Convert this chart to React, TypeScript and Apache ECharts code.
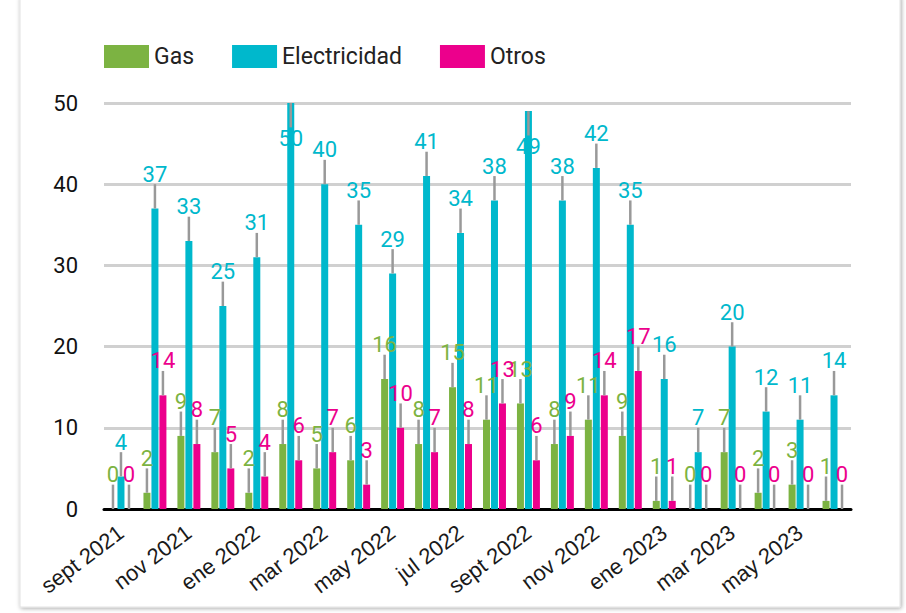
import React, { useEffect, useRef } from "react";
import * as echarts from "echarts";

const categories = [
  "sept 2021", "oct 2021", "nov 2021", "dic 2021", "ene 2022", "feb 2022",
  "mar 2022", "abr 2022", "may 2022", "jun 2022", "jul 2022", "ago 2022",
  "sept 2022", "oct 2022", "nov 2022", "dic 2022", "ene 2023", "feb 2023",
  "mar 2023", "abr 2023", "may 2023", "jun 2023",
];
const gas = [0, 2, 9, 7, 2, 8, 5, 6, 16, 8, 15, 11, 13, 8, 11, 9, 1, 0, 7, 2, 3, 1];
const electricidad = [4, 37, 33, 25, 31, 50, 40, 35, 29, 41, 34, 38, 49, 38, 42, 35, 16, 7, 20, 12, 11, 14];
const otros = [0, 14, 8, 5, 4, 6, 7, 3, 10, 7, 8, 13, 6, 9, 14, 17, 1, 0, 0, 0, 0, 0];
const errorMargin = 3;
const yMin = 0;
const yMax = 50;
const yInterval = 10;

const seriesDefs = [
  { name: "Gas", data: gas, color: "#7cb342" },
  { name: "Electricidad", data: electricidad, color: "#00b8cc" },
  { name: "Otros", data: otros, color: "#ec008c" },
];

const BAR_W = 7;
const BAR_STEP = 8;

export default function App() {
  const ref = useRef<HTMLDivElement>(null);
  useEffect(() => {
    if (!ref.current) return;
    const chart = echarts.init(ref.current, undefined, { renderer: "svg" });

    const barSeries = seriesDefs.map((s) => ({
      name: s.name,
      type: "bar",
      data: s.data,
      barWidth: BAR_W,
      barGap: "14%",
      itemStyle: { color: s.color },
      z: 2,
    }));

    const errSeries = seriesDefs.map((s, si) => ({
      name: s.name + "_err",
      type: "custom",
      data: s.data.map((v, i) => [i, v]),
      encode: { x: 0, y: 1 },
      z: 5,
      silent: true,
      clip: false,
      renderItem: (params: any, api: any) => {
        const idx = api.value(0);
        const v = api.value(1);
        const base = api.coord([idx, v]);
        const x = base[0] + (si - 1) * BAR_STEP;
        let y2: number;
        let labelY: number;
        if (v + errorMargin <= yMax) {
          y2 = api.coord([idx, v + errorMargin])[1];
          labelY = y2 - 10;
        } else {
          y2 = api.coord([idx, v - errorMargin])[1];
          labelY = y2 + 11;
        }
        return {
          type: "group",
          children: [
            {
              type: "line",
              shape: { x1: x, y1: base[1], x2: x, y2 },
              style: { stroke: "#999999", lineWidth: 2.5 },
            },
            {
              type: "text",
              style: {
                text: String(v),
                x: x,
                y: labelY,
                fill: s.color,
                fontSize: 22,
                fontFamily: "Roboto",
                align: "center",
                verticalAlign: "middle",
                textAlign: "center",
                textVerticalAlign: "middle",
              },
            },
          ],
        };
      },
    }));

    chart.setOption({
      animation: false,
      backgroundColor: "#ffffff",
      graphic: [
        {
          type: "rect",
          z: -100,
          shape: { x: 20, y: -4, width: 880, height: 611 },
          style: {
            fill: "#ffffff",
            stroke: "#e2e2e2",
            lineWidth: 1,
            shadowBlur: 4,
            shadowColor: "rgba(0,0,0,0.35)",
            shadowOffsetX: 1,
            shadowOffsetY: 1,
          },
        },
      ],
      legend: {
        data: seriesDefs.map((s) => s.name),
        left: 99,
        top: 40,
        itemWidth: 45,
        itemHeight: 23,
        itemGap: 38,
        icon: "rect",
        textStyle: { fontSize: 23, fontFamily: "Roboto", color: "#222" },
      },
      grid: { left: 104, right: 55, top: 103, bottom: 104, containLabel: false },
      xAxis: {
        type: "category",
        data: categories,
        axisTick: { show: false },
        axisLine: { lineStyle: { color: "#000", width: 3 } },
        axisLabel: {
          interval: 1,
          rotate: 37,
          fontSize: 22,
          fontFamily: "Liberation Sans",
          color: "#1a1a1a",
          margin: 21,
        },
      },
      yAxis: {
        type: "value",
        min: yMin,
        max: yMax,
        interval: yInterval,
        axisLine: { show: false },
        axisTick: { show: false },
        axisLabel: { fontSize: 22, fontFamily: "Roboto", color: "#111", margin: 26 },
        splitLine: { lineStyle: { color: "#d0d0d0", width: 3 } },
      },
      series: [...barSeries, ...errSeries],
    });
    return () => chart.dispose();
  }, []);
  return (
    <div
      ref={ref}
      style={{ position: "fixed", left: 0, top: 0, width: 906, height: 613 }}
    />
  );
}
